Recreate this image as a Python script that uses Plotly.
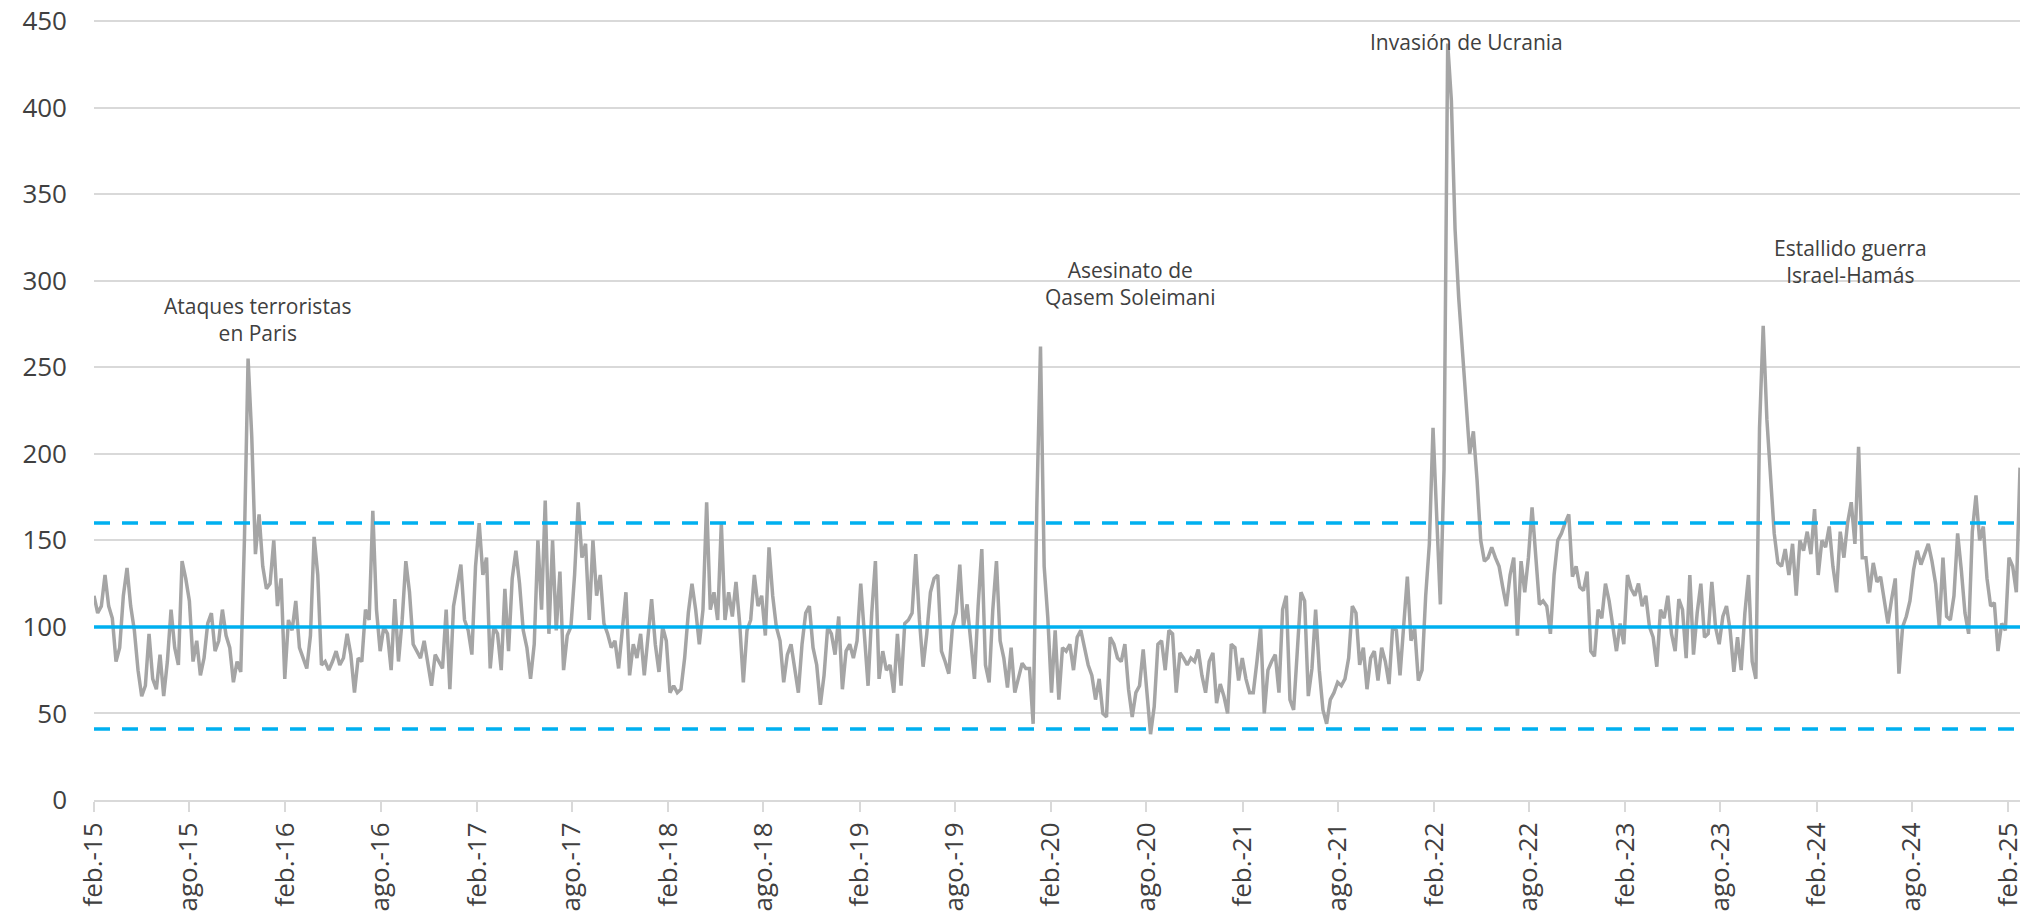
import pandas as pd
import plotly.graph_objects as go

# ---------------- data (weekly readings of the index, starting 1 Feb 2015) ----------------
start_date = "2015-02-01"
gpr_values = [
    118, 108, 112, 130, 112, 105, 80, 88, 118, 134,
    112, 98, 75, 60, 66, 96, 70, 64, 84, 60,
    80, 110, 88, 78, 138, 128, 115, 80, 92, 72,
    82, 102, 108, 86, 92, 110, 95, 88, 68, 80,
    74, 150, 255, 210, 142, 165, 135, 122, 125, 150,
    112, 128, 70, 104, 98, 115, 88, 82, 76, 95,
    152, 130, 78, 80, 75, 80, 86, 78, 82, 96,
    84, 62, 82, 80, 110, 104, 167, 110, 86, 100,
    96, 75, 116, 80, 104, 138, 120, 90, 86, 82,
    92, 80, 66, 84, 80, 76, 110, 64, 112, 124,
    136, 104, 98, 84, 135, 160,
    130, 140, 76, 100, 96, 75, 122, 86, 128, 144,
    125, 98, 88, 70, 90, 150, 110, 173, 96, 150,
    98, 132, 75, 95, 100, 130, 172, 140, 148, 104,
    150, 118, 130, 102, 96, 88, 92, 76, 100, 120,
    72, 90, 82, 96, 72, 92, 116, 90, 74, 100,
    92, 62, 66, 62, 64, 82, 108, 125, 110, 90,
    110, 172, 110, 120, 104, 160, 104, 120, 106, 126,
    102, 68, 98, 104, 130, 112, 118, 95, 146, 118,
    100, 92, 68, 84, 90, 76, 62, 90, 108, 112,
    88, 78, 55, 72, 100, 96, 84, 106, 64, 86,
    90, 82, 92, 125, 98,
    66, 108, 138, 70, 86, 75, 78, 62, 96, 66,
    102, 104, 108, 142, 104, 77, 96, 120, 128, 130,
    86, 80, 73, 100, 108, 136, 100, 113, 92, 70,
    112, 145, 78, 68, 110, 138, 92, 82, 65, 88,
    62, 70, 79, 76, 76, 44, 170, 262, 135, 105,
    62, 98, 58, 88, 86, 90, 75, 94, 98, 88,
    78, 72, 58, 70, 50, 48, 94, 90, 82, 80,
    90, 64, 48, 62, 66, 87, 60, 38, 54, 90,
    92, 75, 98, 96, 62, 85, 82, 78, 82, 80,
    87, 72, 62, 80, 85, 56, 67, 60, 50, 90,
    88, 69, 82, 70,
    62, 62, 80, 100, 50, 75, 80, 84, 62, 110,
    118, 58, 52, 85, 120, 115, 60, 76, 110, 75,
    52, 44, 58, 62, 68, 66, 70, 82, 112, 108,
    78, 88, 64, 82, 86, 69, 88, 80, 67, 100,
    98, 72, 100, 129, 92, 99, 69, 75, 118, 148,
    215, 160, 113, 191, 437, 404, 330, 290, 262, 232,
    200, 213, 185, 150, 138, 140, 146, 140, 135, 123,
    112, 130, 140, 95, 138, 120, 140, 169, 140, 113,
    115, 112, 96, 130, 150, 154, 160, 165, 129, 135,
    123, 121, 132, 86, 83, 110, 105, 125, 115, 99,
    86, 102, 90, 130, 122,
    118, 125, 112, 118, 100, 94, 77, 110, 105, 118,
    96, 86, 116, 110, 82, 130, 84, 108, 125, 94,
    96, 126, 100, 90, 106, 112, 98, 74, 94, 75,
    108, 130, 80, 70, 215, 274, 220, 185, 154, 137,
    135, 145, 130, 148, 118, 150, 144, 155, 142, 168,
    130, 150, 146, 158, 135, 120, 155, 140, 160, 172,
    148, 204, 140, 140, 120, 137, 126, 129, 114, 102,
    116, 128, 73, 100, 106, 115, 133, 144, 136, 142,
    148, 138, 125, 100, 140, 106, 104, 118, 154, 133,
    108, 96, 155, 176, 150, 158, 128, 112, 114, 86,
    102, 98, 140, 135, 120, 192,
]
mean_level = 100
upper_band = 160
lower_band = 41

tick_labels = [
    "feb.-15", "ago.-15", "feb.-16", "ago.-16", "feb.-17", "ago.-17", "feb.-18",
    "ago.-18", "feb.-19", "ago.-19", "feb.-20", "ago.-20", "feb.-21", "ago.-21",
    "feb.-22", "ago.-22", "feb.-23", "ago.-23", "feb.-24", "ago.-24", "feb.-25",
]
y_ticks = [0, 50, 100, 150, 200, 250, 300, 350, 400, 450]

event_labels = [
    "Ataques terroristas<br>en Paris",
    "Asesinato de<br>Qasem Soleimani",
    "Invasión de Ucrania",
    "Estallido guerra<br>Israel-Hamás",
]
event_dates = ["2015-12-10", "2020-07-01", "2022-04-04", "2024-04-06"]
event_levels = [277.5, 298.6, 437.9, 311]

# ---------------- figure ----------------
dates = pd.date_range(start_date, periods=len(gpr_values), freq="7D")
tick_dates = pd.date_range(start_date, periods=len(tick_labels), freq="6MS")

FONT = "Open Sans"
GRAY_TXT = "#404040"
GRID = "#d9d9d9"
BLUE = "#00b0f0"

fig = go.Figure()
fig.add_trace(go.Scatter(x=dates, y=gpr_values, mode="lines",
                         line=dict(color="#a5a5a5", width=3.5), hoverinfo="x+y"))
fig.add_trace(go.Scatter(x=dates, y=[mean_level] * len(dates), mode="lines",
                         line=dict(color=BLUE, width=3.5)))
for lvl in (upper_band, lower_band):
    fig.add_trace(go.Scatter(x=dates, y=[lvl] * len(dates), mode="lines",
                             line=dict(color=BLUE, width=3.5, dash="16px,12px")))

for txt, d, lv in zip(event_labels, event_dates, event_levels):
    fig.add_annotation(x=d, y=lv, xref="x", yref="y", text=txt, showarrow=False,
                       font=dict(family=FONT, size=21, color=GRAY_TXT),
                       align="center", xanchor="center", yanchor="middle")

fig.update_layout(
    width=2032, height=913,
    margin=dict(l=94, r=12, t=20, b=113, autoexpand=False),
    paper_bgcolor="white", plot_bgcolor="white",
    showlegend=False,
    font=dict(family=FONT, color=GRAY_TXT),
)
fig.update_xaxes(
    type="date",
    automargin=False,
    range=[dates[0], dates[-1]],
    tickvals=tick_dates, ticktext=tick_labels,
    tickangle=-90,
    tickfont=dict(family=FONT, size=26, color=GRAY_TXT),
    showgrid=False,
    showline=True, linecolor=GRID, linewidth=2,
    ticks="outside", ticklen=10, tickcolor=GRID, tickwidth=2,
    zeroline=False,
)
fig.update_yaxes(
    automargin=False,
    range=[0, 450.6],
    tickvals=y_ticks,
    tickfont=dict(family=FONT, size=26, color=GRAY_TXT),
    showgrid=True, gridcolor=GRID, gridwidth=2,
    zeroline=False, showline=False,
    ticks="", ticklabelstandoff=26,
)

# remove the default 8px page margin so the figure fills the window exactly
fig.write_html(
    "out.html",
    config={"displayModeBar": False},
    post_script="document.body.style.margin='0px';document.body.style.overflow='hidden';",
)
